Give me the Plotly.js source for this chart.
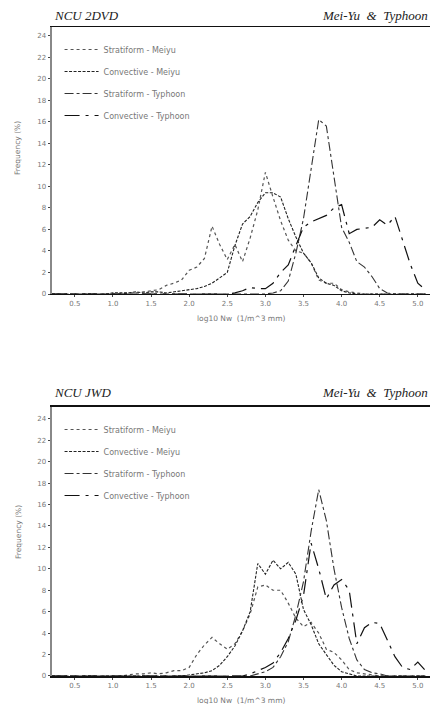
<!DOCTYPE html>
<html>
<head>
<meta charset="utf-8">
<script src="https://cdn.plot.ly/plotly-3.0.1.min.js"></script>
<style>html,body{margin:0;padding:0;background:#fff;}#chart{width:430px;height:704px;}</style>
</head>
<body>
<div id="chart"></div>
<script>
// log10 Nw bins
var logNw = [0.2,0.3,0.4,0.5,0.6,0.7,0.8,0.9,1.0,1.1,1.2,1.3,1.4,1.5,1.6,1.7,1.8,1.9,2.0,2.1,2.2,2.3,2.4,2.5,2.6,2.7,2.8,2.9,3.0,3.1,3.2,3.3,3.4,3.5,3.6,3.7,3.8,3.9,4.0,4.1,4.2,4.3,4.4,4.5,4.6,4.7,4.8,4.9,5.0,5.1];

var seriesNames = ["Stratiform - Meiyu","Convective - Meiyu","Stratiform - Typhoon","Convective - Typhoon"];

// NCU 2DVD frequencies (%)
var dvdStratMeiyu = [0,0,0,0,0,0,0,0,0,0,0.1,0.1,0.2,0.3,0.4,0.8,1.0,1.3,2.2,2.5,3.3,6.3,4.6,3.2,4.6,3.0,5.2,7.8,11.3,9.0,6.8,5.0,4.0,3.8,2.9,1.3,1.0,1.0,0.4,0.2,0.1,0,0,0,0,0,0,0,0,0];
var dvdConvMeiyu  = [0,0,0,0,0,0,0,0,0.1,0.1,0.1,0.2,0.1,0.2,0.2,0.1,0.2,0.3,0.4,0.5,0.7,1.0,1.5,2.0,4.5,6.5,7.2,8.5,9.4,9.4,9.0,7.0,5.3,3.8,2.9,1.5,1.0,0.8,0.3,0.1,0,0,0,0,0,0,0,0,0,0];
var dvdStratTyph  = [0,0,0,0,0,0,0,0,0,0,0,0,0,0,0,0,0,0,0,0,0,0,0,0,0,0,0,0,0,0.1,0.3,1.2,3.8,7.0,11.5,16.2,15.6,11.0,6.2,4.8,3.0,2.5,1.6,0.5,0.1,0,0,0,0,0];
var dvdConvTyph   = [0,0,0,0,0,0,0,0,0,0,0,0,0,0,0,0,0,0,0,0,0,0,0,0,0.1,0.3,0.6,0.5,0.5,1.0,2.0,2.7,4.5,6.2,6.7,7.0,7.3,8.0,8.3,5.6,6.0,6.1,6.2,6.9,6.4,7.2,4.9,2.8,1.0,0.4];

// NCU JWD frequencies (%)
var jwdStratMeiyu = [0,0,0,0,0,0,0,0,0,0,0.1,0.2,0.2,0.3,0.2,0.3,0.5,0.5,0.8,2.0,2.9,3.6,3.0,2.5,3.0,4.2,5.8,8.3,8.5,8.0,8.0,6.8,5.4,4.6,5.0,4.0,2.5,2.2,1.5,0.6,0.3,0.2,0.1,0,0,0,0,0,0,0];
var jwdConvMeiyu  = [0,0,0,0,0,0,0,0,0,0,0,0,0,0,0,0,0,0,0.1,0.2,0.3,0.5,1.0,1.8,2.8,4.2,6.0,10.5,9.5,10.8,10.0,10.6,9.5,6.2,4.8,3.0,2.0,1.0,0.4,0.2,0,0,0,0,0,0,0,0,0,0];
var jwdStratTyph  = [0,0,0,0,0,0,0,0,0,0,0,0,0,0,0,0,0,0,0,0,0,0,0,0,0,0,0,0.2,0.4,0.8,1.8,3.2,5.7,8.8,13.5,17.4,14.5,10.0,6.4,3.5,1.5,0.6,0.3,0.2,0,0,0,0,0,0];
var jwdConvTyph   = [0,0,0,0,0,0,0,0,0,0,0,0,0,0,0,0,0,0,0,0,0,0,0,0,0,0,0.2,0.5,0.8,1.2,2.2,3.5,5.2,7.5,12.4,10.0,7.2,8.5,9.0,8.0,3.0,4.5,5.0,4.9,3.4,1.8,0.8,0.6,1.3,0.5];

var xTicks = [0.5,1.0,1.5,2.0,2.5,3.0,3.5,4.0,4.5,5.0];
var yTicks = [0,2,4,6,8,10,12,14,16,18,20,22,24];

var styles = [
  {dash:"dot", color:"#555", width:1.2},
  {dash:"3px,1.5px", color:"#222", width:1.1},
  {dash:"dashdot", color:"#333", width:1.1},
  {dash:"longdashdot", color:"#111", width:1.2}
];

function mk(y, k, xa, ya, leg) {
  return {x: logNw, y: y, type: "scatter", mode: "lines", name: seriesNames[k],
    xaxis: xa, yaxis: ya, legend: leg, legendgroup: leg + k,
    line: {dash: styles[k].dash, color: styles[k].color, width: styles[k].width}};
}

var data = [
  mk(dvdStratMeiyu,0,"x","y","legend"), mk(dvdConvMeiyu,1,"x","y","legend"),
  mk(dvdStratTyph,2,"x","y","legend"), mk(dvdConvTyph,3,"x","y","legend"),
  mk(jwdStratMeiyu,0,"x2","y2","legend2"), mk(jwdConvMeiyu,1,"x2","y2","legend2"),
  mk(jwdStratTyph,2,"x2","y2","legend2"), mk(jwdConvTyph,3,"x2","y2","legend2")
];

var tickFont = {family:"DejaVu Sans", size:7, color:"#777"};
function xax(anchor) {
  return {anchor: anchor, domain:[0,1], range:[0.2,5.16], tickvals:xTicks,
    ticktext: xTicks.map(function(v){return v.toFixed(1);}),
    showgrid:false, zeroline:false, showline:true, linecolor:"#111", linewidth:1.5,
    mirror:true, ticks:"outside", ticklen:2, tickcolor:"#444", tickfont:tickFont};
}
function yax(anchor, dom, top) {
  return {anchor: anchor, domain: dom, range:[0, top], tickvals:yTicks,
    showgrid:false, zeroline:false, showline:true, linecolor:"#888", linewidth:2.5,
    ticks:"outside", ticklen:2, tickcolor:"#444", tickfont:tickFont};
}

var titleFont = {family:"Liberation Serif", size:13, color:"#222"};
var smallFont = {family:"DejaVu Sans", size:7.5, color:"#777"};
function py(px){ return (676 - px) / 649; }

var layout = {
  width:430, height:704, paper_bgcolor:"#fff", plot_bgcolor:"#fff",
  margin:{l:52, r:0, t:27, b:28},
  showlegend:true,
  xaxis: xax("y"), yaxis: yax("x", [0.5886,1], 24.8),
  xaxis2: xax("y2"), yaxis2: yax("x2", [0,0.4145], 25.1),
  legend: {x:0.02, y:py(35), xanchor:"left", yanchor:"top", bgcolor:"rgba(0,0,0,0)",
    font:{family:"DejaVu Sans", size:8, color:"#777"}, tracegroupgap:3, itemwidth:34},
  legend2: {x:0.02, y:py(415), xanchor:"left", yanchor:"top", bgcolor:"rgba(0,0,0,0)",
    font:{family:"DejaVu Sans", size:8, color:"#777"}, tracegroupgap:3, itemwidth:34},
  annotations: [
    {text:"<i>NCU 2DVD</i>", xref:"paper", yref:"paper", x:0, y:py(15), xanchor:"left", yanchor:"middle", showarrow:false, font:titleFont},
    {text:"<i>Mei-Yu  &  Typhoon</i>", xref:"paper", yref:"paper", x:1, y:py(15), xanchor:"right", yanchor:"middle", showarrow:false, font:titleFont},
    {text:"<i>NCU JWD</i>", xref:"paper", yref:"paper", x:0, y:py(393), xanchor:"left", yanchor:"middle", showarrow:false, font:titleFont},
    {text:"<i>Mei-Yu  &  Typhoon</i>", xref:"paper", yref:"paper", x:1, y:py(393), xanchor:"right", yanchor:"middle", showarrow:false, font:titleFont},
    {text:"Frequency (%)", xref:"paper", yref:"paper", x:(18-52)/378, y:py(148), xanchor:"center", yanchor:"middle", textangle:-90, showarrow:false, font:smallFont},
    {text:"Frequency (%)", xref:"paper", yref:"paper", x:(18-52)/378, y:py(532), xanchor:"center", yanchor:"middle", textangle:-90, showarrow:false, font:smallFont},
    {text:"log10 Nw  (1/m^3 mm)", xref:"paper", yref:"paper", x:0.5, y:py(318), xanchor:"center", yanchor:"middle", showarrow:false, font:smallFont},
    {text:"log10 Nw  (1/m^3 mm)", xref:"paper", yref:"paper", x:0.5, y:py(700), xanchor:"center", yanchor:"middle", showarrow:false, font:smallFont}
  ]
};

Plotly.newPlot("chart", data, layout, {displayModeBar:false, staticPlot:true});
</script>
</body>
</html>
